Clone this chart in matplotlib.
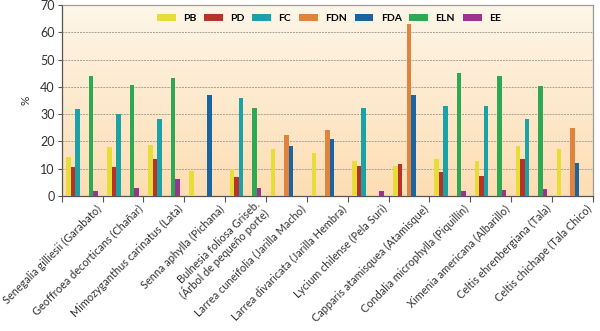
import numpy as np
import matplotlib
matplotlib.use("Agg")
import matplotlib.pyplot as plt
from matplotlib.colors import LinearSegmentedColormap

plt.rcParams['font.family'] = ['Lato', 'DejaVu Sans']

categories = [
    "Senegalia gilliesii (Garabato)",
    "Geoffroea decorticans (Chañar)",
    "Mimozyganthus carinatus (Lata)",
    "Senna aphylla (Pichana)",
    "Bulnesia foliosa Griseb.\n(Árbol de pequeño porte)",
    "Larrea cuneifolia (Jarilla Macho)",
    "Larrea divaricata (Jarilla Hembra)",
    "Lycium chilense (Pela Suri)",
    "Capparis atamisquea (Atamisque)",
    "Condalia microphylla (Piquillín)",
    "Ximenia americana (Albarillo)",
    "Celtis ehrenbergiana (Tala)",
    "Celtis chichape (Tala Chico)",
]

PB  = [14.2, 17.8, 18.8, 9.0, 9.8, 17.1, 15.6, 12.8, 11.0, 13.7, 12.8, 18.3, 17.2]
PD  = [10.5, 10.7, 13.5, 0, 7.1, 0, 0, 11.0, 11.7, 8.9, 7.4, 13.7, 0]
FC  = [32.0, 30.0, 28.1, 0, 35.9, 0, 0, 32.1, 0, 33.0, 33.0, 28.1, 0]
FDN = [0, 0, 0, 0, 0, 22.5, 24.2, 0, 63.0, 0, 0, 0, 24.9]
FDA = [0, 0, 0, 37.1, 0, 18.3, 20.8, 0, 36.9, 0, 0, 0, 12.2]
ELN = [44.0, 40.5, 43.2, 0, 32.2, 0, 0, 0, 0, 45.2, 44.0, 40.3, 0]
EE  = [1.9, 2.9, 6.1, 0, 2.9, 0, 0, 1.9, 0, 1.9, 2.2, 2.7, 0]

series_names = ["PB", "PD", "FC", "FDN", "FDA", "ELN", "EE"]
series_values = [PB, PD, FC, FDN, FDA, ELN, EE]
colors = ["#E8DC36", "#B83229", "#1AA3A6", "#DE843E", "#1C64A0", "#2FA853", "#9A358F"]

fig = plt.figure(figsize=(6.0, 3.31), dpi=100)
ax = fig.add_axes([0.103, 0.408, 0.885, 0.577])

# warm vertical gradient behind the plot area
grad = np.linspace(0, 1, 256).reshape(-1, 1)
bg_cmap = LinearSegmentedColormap.from_list("bg", ["#FDDDB3", "#FEF6E8"])
ax.imshow(grad, aspect="auto", cmap=bg_cmap, origin="lower",
          extent=[0, len(categories), 0, 70], zorder=0)

x = np.arange(len(categories))
bw = 0.11
offsets = (np.arange(len(series_names)) - 3) * bw
for name, vals, col, off in zip(series_names, series_values, colors, offsets):
    ax.bar(x + 0.5 + off, vals, width=bw, color=col, label=name, zorder=3,
           linewidth=0)

ax.set_xlim(0, len(categories))
ax.set_ylim(0, 70)
ax.set_yticks(np.arange(0, 71, 10))
ax.tick_params(axis="y", labelsize=9, length=3, color="#555555", labelcolor="#333333", pad=2)

# category boundaries carry the tick marks; labels end near each boundary
ax.set_xticks(np.arange(0, len(categories) + 1), minor=False)
ax.set_xticklabels([])
ax.set_xticks(x + 0.93, minor=True)
ax.set_xticklabels(categories, minor=True, rotation=45, ha="right",
                   rotation_mode="anchor", fontsize=7.8, color="#333333",
                   va="center", linespacing=1.0)
ax.tick_params(axis="x", which="minor", length=0, pad=8)
ax.tick_params(axis="x", which="major", length=4, color="#555555")

ax.yaxis.grid(True, color="#A8A098", linestyle=(0, (2, 1)), linewidth=0.7, zorder=1)
ax.set_axisbelow(False)

for side in ["left", "bottom"]:
    ax.spines[side].set_color("#555555")
    ax.spines[side].set_linewidth(0.9)
for side in ["top", "right"]:
    ax.spines[side].set_color("#9A9A9A")
    ax.spines[side].set_linewidth(0.9)

ax.set_ylabel("%", fontsize=8.5, color="#333333", labelpad=6)

ax.legend(loc="upper center", ncol=7, frameon=False,
          handlelength=1.8, handleheight=0.75, columnspacing=0.75,
          handletextpad=0.7, bbox_to_anchor=(0.503, 1.0), borderaxespad=0.45,
          prop={"weight": "bold", "size": 7.5})

fig.savefig("out.png", dpi=100)
